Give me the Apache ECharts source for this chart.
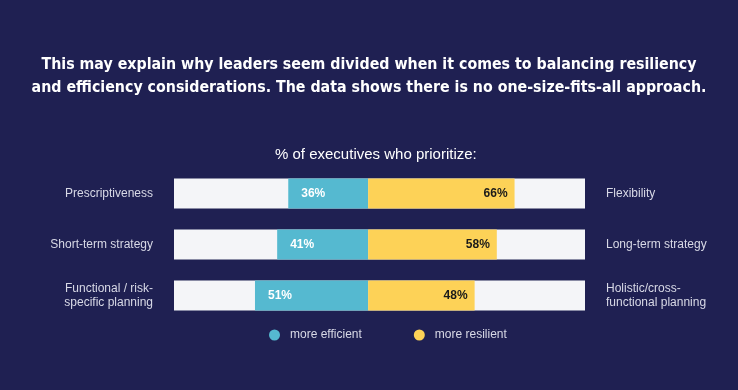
<!DOCTYPE html>
<html>
<head>
<meta charset="utf-8">
<script src="https://cdn.jsdelivr.net/npm/echarts@6/dist/echarts.min.js"></script>
<style>
html,body{margin:0;padding:0;background:#1f2052;}
#chart{width:738px;height:390px;}
</style>
</head>
<body>
<div id="chart"></div>
<script>
const leftLabels = ['Prescriptiveness', 'Short-term strategy', 'Functional / risk-\nspecific planning'];
const rightLabels = ['Flexibility', 'Long-term strategy', 'Holistic/cross-\nfunctional planning'];
const efficientValues = [36, 41, 51];
const resilientValues = [66, 58, 48];
const seriesNames = ['more efficient', 'more resilient'];
const titleLines = [
  'This may explain why leaders seem divided when it comes to balancing resiliency',
  'and efficiency considerations. The data shows there is no one-size-fits-all approach.'
];
const subtitleText = '% of executives who prioritize:';

const chart = echarts.init(document.getElementById('chart'));
const labelFont = 'Liberation Sans, Arial, sans-serif';
const titleStyle = {
  color: '#ffffff',
  fontFamily: 'DejaVu Sans Condensed, DejaVu Sans, sans-serif',
  fontWeight: 'bold',
  fontSize: 15.8
};
chart.setOption({
  backgroundColor: '#1f2052',
  animation: false,
  title: [{
    text: titleLines[0],
    left: 'center',
    top: 57,
    padding: 0,
    textStyle: titleStyle
  }, {
    text: titleLines[1],
    left: 'center',
    top: 80,
    padding: 0,
    textStyle: titleStyle
  }, {
    text: subtitleText,
    left: 275,
    top: 147,
    padding: 0,
    textStyle: {
      color: '#ffffff',
      fontFamily: labelFont,
      fontWeight: 'normal',
      fontSize: 15
    }
  }],
  legend: {
    data: seriesNames,
    left: 264,
    top: 324,
    icon: 'circle',
    itemWidth: 11,
    itemHeight: 11,
    itemGap: 52,
    textStyle: {
      color: '#d8d9e6',
      fontFamily: labelFont,
      fontSize: 12,
      padding: [0, 0, 0, 5]
    }
  },
  grid: {
    left: 174,
    right: 153,
    top: 168,
    bottom: 69,
    containLabel: false
  },
  xAxis: {
    type: 'value',
    min: -87.5,
    max: 97.75,
    show: false
  },
  yAxis: [{
    type: 'category',
    data: leftLabels,
    inverse: true,
    position: 'left',
    axisLine: {show: false},
    axisTick: {show: false},
    axisLabel: {
      color: '#d8d9e6',
      fontFamily: labelFont,
      fontSize: 12,
      margin: 21,
      align: 'right',
      lineHeight: 14
    }
  }, {
    type: 'category',
    data: rightLabels,
    inverse: true,
    position: 'right',
    axisLine: {show: false},
    axisTick: {show: false},
    axisLabel: {
      color: '#d8d9e6',
      fontFamily: labelFont,
      fontSize: 12,
      margin: 21,
      align: 'left',
      lineHeight: 14
    }
  }],
  series: [{
    name: seriesNames[0],
    type: 'bar',
    stack: 'total',
    barWidth: 30,
    yAxisIndex: 0,
    data: efficientValues.map(v => -v),
    itemStyle: {color: '#55b9d0'},
    showBackground: true,
    backgroundStyle: {color: '#f4f5f8'},
    label: {
      show: true,
      position: 'insideLeft',
      distance: 13,
      color: '#ffffff',
      fontFamily: labelFont,
      fontWeight: 'bold',
      fontSize: 12,
      formatter: p => Math.abs(p.value) + '%'
    }
  }, {
    name: seriesNames[1],
    type: 'bar',
    stack: 'total',
    barWidth: 30,
    yAxisIndex: 0,
    data: resilientValues,
    itemStyle: {color: '#fdd257'},
    label: {
      show: true,
      position: 'insideRight',
      distance: 7,
      color: '#1a1a1a',
      fontFamily: labelFont,
      fontWeight: 'bold',
      fontSize: 12,
      formatter: p => p.value + '%'
    }
  }]
});
</script>
</body>
</html>
